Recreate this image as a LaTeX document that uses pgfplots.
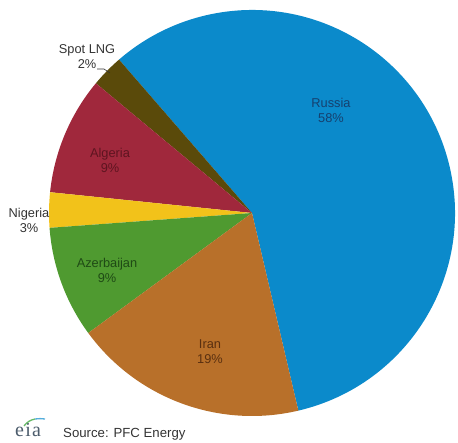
\documentclass[border=0pt]{standalone}
\usepackage{pgfplots}
\usepackage{pgfplotstable}
\pgfplotsset{compat=1.18}
\usepackage{fontspec}
\setmainfont{Liberation Sans}
\newfontfamily\eiafont{Liberation Serif}

\definecolor{cRussia}{HTML}{0B8ACB}
\definecolor{cSpot}{HTML}{5A4A0A}
\definecolor{cAlgeria}{HTML}{A0283C}
\definecolor{cNigeria}{HTML}{F2C21A}
\definecolor{cAzer}{HTML}{4F9A30}
\definecolor{cIran}{HTML}{B8702A}
\definecolor{tRussia}{HTML}{16406E}
\definecolor{tAlgeria}{HTML}{5E1420}
\definecolor{tAzer}{HTML}{1F4A15}
\definecolor{tIran}{HTML}{5A3010}
\definecolor{tOut}{HTML}{333333}
\definecolor{eiagray}{HTML}{4C5C6C}

% share = slice size, pct = printed label
\pgfplotstableread[col sep=comma]{
name,share,pct,fill,txt,lx,ly
Russia,57.7,58,cRussia,tRussia,331,110
Spot LNG,2.6,2,cSpot,tOut,87,57
Algeria,9.4,9,cAlgeria,tAlgeria,110,160
Nigeria,2.8,3,cNigeria,tOut,29,220
Azerbaijan,8.9,9,cAzer,tAzer,107,270
Iran,18.6,19,cIran,tIran,210,352
}\piedata

\begin{document}
\begin{tikzpicture}
% cumulative angles, counter-clockwise from the Iran/Russia edge
\def\cum{-76.8}
\pgfplotsforeachungrouped \i in {0,...,5}{%
  \pgfplotstablegetelem{\i}{share}\of\piedata
  \pgfmathsetmacro\nxt{\cum+3.6*\pgfplotsretval}%
  \expandafter\xdef\csname a\i\endcsname{\cum}%
  \expandafter\xdef\csname b\i\endcsname{\nxt}%
  \xdef\cum{\nxt}%
  \pgfplotstablegetelem{\i}{fill}\of\piedata
  \expandafter\xdef\csname f\i\endcsname{\pgfplotsretval}%
  \pgfplotstablegetelem{\i}{txt}\of\piedata
  \expandafter\xdef\csname t\i\endcsname{\pgfplotsretval}%
  \pgfplotstablegetelem{\i}{name}\of\piedata
  \expandafter\xdef\csname n\i\endcsname{\pgfplotsretval}%
  \pgfplotstablegetelem{\i}{pct}\of\piedata
  \expandafter\xdef\csname p\i\endcsname{\pgfplotsretval}%
  \pgfplotstablegetelem{\i}{lx}\of\piedata
  \expandafter\xdef\csname x\i\endcsname{\pgfplotsretval}%
  \pgfplotstablegetelem{\i}{ly}\of\piedata
  \expandafter\xdef\csname y\i\endcsname{\pgfplotsretval}%
}
\begin{axis}[
  scale only axis, width=458pt, height=443pt,
  xmin=0, xmax=458, ymin=0, ymax=443, y dir=reverse,
  hide axis, clip=false,
]
\path (axis cs:0,0) (axis cs:458,443);
% overlay: arc control points must not widen the page
\pgfplotsinvokeforeach{0,...,5}{
  \fill[\csname f#1\endcsname, overlay]
    (axis cs:252,213) -- ++(\csname a#1\endcsname:203pt)
    arc[start angle=\csname a#1\endcsname, end angle=\csname b#1\endcsname, radius=203pt] -- cycle;
}
\pgfplotsinvokeforeach{0,...,5}{
  \node[text=\csname t#1\endcsname, align=center, font=\fontsize{12.8}{15}\selectfont]
    at (axis cs:\csname x#1\endcsname,\csname y#1\endcsname)
    {\csname n#1\endcsname\\\csname p#1\endcsname\%};
}
% leader line for Spot LNG
\draw[tOut, line width=0.6pt] (axis cs:97,69) -- (axis cs:104,69) -- (axis cs:110,73);
% footer
\node[anchor=base west, text=tOut, font=\fontsize{13.2}{15}\selectfont, inner sep=0pt] at (axis cs:63,438) {Source: PFC Energy};
\node[anchor=base west, text=eiagray, font=\eiafont\fontsize{20}{22}\selectfont, inner sep=0pt] at (axis cs:15,437) {e\kern1.2pt i\kern1.2pt a};
\draw[green!55!black!60, line width=1.3pt, overlay] (axis cs:24,426) to[bend left=20] (axis cs:35,419);
\draw[cRussia!70, line width=1.3pt, overlay] (axis cs:35,419) to[bend left=8] (axis cs:45,419);
\end{axis}
\end{tikzpicture}
\end{document}
